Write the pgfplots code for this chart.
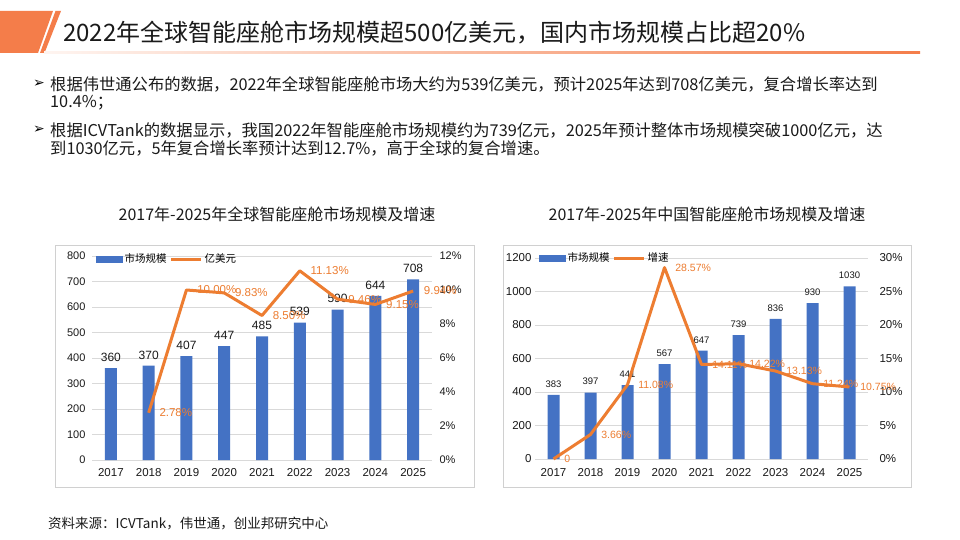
\documentclass[border=0pt]{standalone}
\usepackage{pgfplots}
\pgfplotsset{compat=1.18}
\usepackage{fontspec}
\setmainfont{Liberation Sans}
\newfontfamily\cjk{Noto Sans CJK SC}
\newfontfamily\sym{DejaVu Sans}
\definecolor{barblue}{HTML}{4472C4}
\definecolor{lineor}{HTML}{ED7D31}
\definecolor{deco}{HTML}{F47D4A}
\definecolor{gridc}{HTML}{D9D9D9}
\definecolor{framec}{HTML}{D0D0D0}
\definecolor{txt}{HTML}{1A1A1A}
\newcommand{\fs}[1]{\fontsize{#1}{#1}\selectfont}
\pgfplotsset{
  base/.style={scale only axis, xmin=-0.5, xmax=8.5,
    axis line style={draw=none}, major tick length=0pt,
    /pgf/number format/assume math mode=true,
    /pgf/number format/1000 sep={}, clip=false},
}
\begin{document}
\begin{tikzpicture}[x=1pt,y=1pt]
\fill[white] (0,0) rectangle (960,-540);
\path[use as bounding box] (0,0) rectangle (960,-540);
% header decoration
\fill[deco] (0,-11) -- (53,-11) -- (38,-53) -- (0,-53) -- cycle;
\fill[deco] (55.5,-11) -- (61,-11) -- (44.5,-53) -- (40,-53) -- cycle;
\shade[left color=deco!8, right color=deco] (44,-51.5) rectangle (920,-54);
\node[anchor=west, inner sep=0pt, text=txt, font=\cjk\fs{24}] at (63,-33) {2022年全球智能座舱市场规模超500亿美元，国内市场规模占比超20\%};
% bullets
\node[anchor=west, inner sep=0pt, font=\sym\fs{14}] at (33,-84) {➢};
\node[anchor=west, inner sep=0pt, text=txt, font=\cjk\fs{16.3}] at (50,-84) {根据伟世通公布的数据，2022年全球智能座舱市场大约为539亿美元，预计2025年达到708亿美元，复合增长率达到};
\node[anchor=west, inner sep=0pt, text=txt, font=\cjk\fs{16.3}] at (50,-103) {10.4\%；};
\node[anchor=west, inner sep=0pt, font=\sym\fs{14}] at (33,-130) {➢};
\node[anchor=west, inner sep=0pt, text=txt, font=\cjk\fs{16.3}] at (50,-130) {根据ICVTank的数据显示，我国2022年智能座舱市场规模约为739亿元，2025年预计整体市场规模突破1000亿元，达};
\node[anchor=west, inner sep=0pt, text=txt, font=\cjk\fs{16.3}] at (50,-148) {到1030亿元，5年复合增长率预计达到12.7\%，高于全球的复合增速。};
% chart titles
\node[text=txt, font=\cjk\fs{16}] at (277,-214) {2017年-2025年全球智能座舱市场规模及增速};
\node[text=txt, font=\cjk\fs{16}] at (707,-214) {2017年-2025年中国智能座舱市场规模及增速};
% frames
\draw[framec, line width=1pt] (55,-245) rectangle (474,-487);
\draw[framec, line width=1pt] (503,-245) rectangle (911,-487);
% source
\node[anchor=west, inner sep=0pt, text=txt, font=\cjk\fs{13.5}] at (48,-523) {资料来源：ICVTank，伟世通，创业邦研究中心};

% ---------- chart 1 ----------
\begin{axis}[base, at={(92pt,-460pt)}, anchor=south west, width=340pt, height=204pt,
  ymin=0, ymax=800, ytick={0,100,...,800}, ymajorgrids,
  grid style={gridc, line width=0.9pt},
  xtick={0,...,8}, xticklabels={2017,2018,2019,2020,2021,2022,2023,2024,2025},
  yticklabel style={font=\fs{11}, xshift=-3pt, text=txt},
  xticklabel style={font=\fs{11.5}, yshift=-5pt, text=txt},
  legend style={draw=none, fill=none, at={(0.01,0.985)}, anchor=west,
    font=\cjk\fs{10.5}, legend columns=2, inner sep=0pt,
    /tikz/every even column/.append style={column sep=1pt}},
  ]
\addplot[ybar, bar width=12pt, fill=barblue, draw=none,
  legend image code/.code={\fill[barblue] (0pt,-3.5pt) rectangle (27pt,3.5pt);},
  nodes near coords, nodes near coords style={font=\fs{12}, text=txt, yshift=3pt}]
  coordinates {(0,360) (1,370) (2,407) (3,447) (4,485) (5,539) (6,590) (7,644) (8,708)};
\addlegendentry{市场规模}
\addlegendimage{legend image code/.code={\draw[lineor, line width=3pt] (0pt,0pt) -- (30pt,0pt);}}
\addlegendentry{亿美元}
\end{axis}
\begin{axis}[base, at={(92pt,-460pt)}, anchor=south west, width=340pt, height=204pt,
  ymin=0, ymax=12, ytick={0,2,...,12},
  yticklabels={0\%,2\%,4\%,6\%,8\%,10\%,12\%}, yticklabel pos=right,
  xtick=\empty, yticklabel style={font=\fs{11}, xshift=4pt, text=txt}]
\addplot[lineor, line width=3pt, line join=round, point meta=explicit symbolic,
  nodes near coords, nodes near coords style={anchor=west, font=\fs{11.5}, text=lineor, xshift=6pt}]
  coordinates {(1,2.78)[2.78\%] (2,10.00)[10.00\%] (3,9.83)[9.83\%] (4,8.50)[8.50\%]
    (5,11.13)[11.13\%] (6,9.46)[9.46\%] (7,9.15)[9.15\%] (8,9.94)[9.94\%]};
\end{axis}

% ---------- chart 2 ----------
\begin{axis}[base, at={(535pt,-459pt)}, anchor=south west, width=333pt, height=201pt,
  ymin=0, ymax=1200, ytick={0,200,...,1200}, ymajorgrids,
  grid style={gridc, line width=0.9pt},
  xtick={0,...,8}, xticklabels={2017,2018,2019,2020,2021,2022,2023,2024,2025},
  yticklabel style={font=\fs{11.5}, text=txt},
  xticklabel style={font=\fs{11.5}, yshift=-6pt, text=txt},
  legend style={draw=none, fill=none, at={(0.01,1.0)}, anchor=west,
    font=\cjk\fs{10.5}, legend columns=2, inner sep=0pt,
    /tikz/every even column/.append style={column sep=1pt}},
  ]
\addplot[ybar, bar width=12pt, fill=barblue, draw=none,
  legend image code/.code={\fill[barblue] (0pt,-3.5pt) rectangle (27pt,3.5pt);},
  nodes near coords, nodes near coords style={font=\fs{9.5}, text=txt, yshift=4pt}]
  coordinates {(0,383) (1,397) (2,441) (3,567) (4,647) (5,739) (6,836) (7,930) (8,1030)};
\addlegendentry{市场规模}
\addlegendimage{legend image code/.code={\draw[lineor, line width=3pt] (0pt,0pt) -- (30pt,0pt);}}
\addlegendentry{增速}
\end{axis}
\begin{axis}[base, at={(535pt,-459pt)}, anchor=south west, width=333pt, height=201pt,
  ymin=0, ymax=30, ytick={0,5,...,30},
  yticklabels={0\%,5\%,10\%,15\%,20\%,25\%,30\%}, yticklabel pos=right,
  xtick=\empty, yticklabel style={font=\fs{11.5}, xshift=8pt, text=txt}]
\addplot[lineor, line width=3pt, line join=round, point meta=explicit symbolic,
  nodes near coords, nodes near coords style={anchor=west, font=\fs{10.5}, text=lineor, xshift=6pt}]
  coordinates {(0,0)[0] (1,3.66)[3.66\%] (2,11.08)[11.08\%] (3,28.57)[28.57\%] (4,14.11)[14.11\%]
    (5,14.22)[14.22\%] (6,13.13)[13.13\%] (7,11.24)[11.24\%] (8,10.75)[10.75\%]};
\end{axis}
\end{tikzpicture}
\end{document}
